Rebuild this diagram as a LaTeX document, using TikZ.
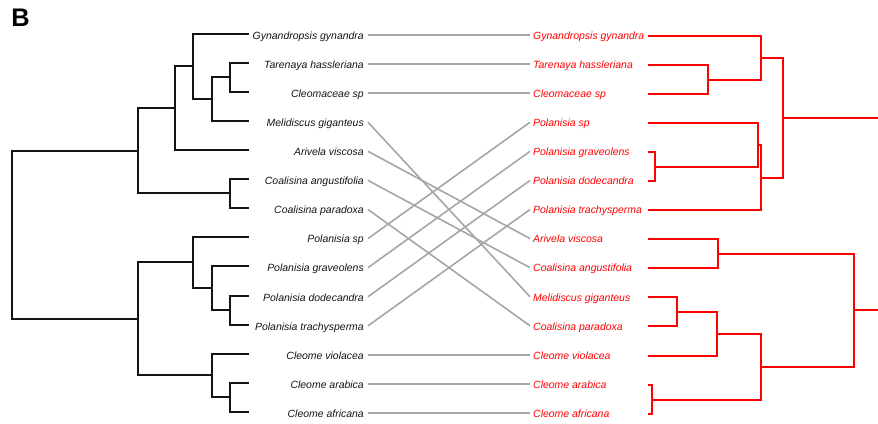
\documentclass[tikz,border=0pt]{standalone}
\usepackage{fontspec}
\newfontfamily\labfont{Liberation Sans}
\usetikzlibrary{calc}
\definecolor{conngray}{RGB}{166,166,166}
\definecolor{treeblack}{RGB}{20,20,20}
\definecolor{treered}{RGB}{255,0,0}
\begin{document}
\begin{tikzpicture}[x=1bp,y=-1bp,
  lefttree/.style={draw=treeblack,line width=1.7bp},
  righttree/.style={draw=treered,line width=1.8bp},
  conn/.style={draw=conngray,line width=1.6bp},
  leftlab/.style={anchor=east,inner xsep=4bp,inner ysep=0pt,text height=8.6bp,text depth=0pt,
    font=\labfont\itshape\fontsize{10.5}{12}\selectfont,text=treeblack},
  rightlab/.style={anchor=west,inner xsep=3bp,inner ysep=0pt,text height=8.6bp,text depth=0pt,
    font=\labfont\itshape\fontsize{10.5}{12}\selectfont,text=treered},
  panel/.style={anchor=base west,inner sep=0pt,font=\labfont\bfseries\fontsize{25.5}{28}\selectfont}]
\useasboundingbox (0,0) rectangle (878,423);
\node[panel] (panelB) at (11.2,26.8) {B};
% left labels and tips
\foreach \i/\t/\y in {1/Gynandropsis gynandra/34,2/Tarenaya hassleriana/63,3/Cleomaceae sp/92,
  4/Melidiscus giganteus/121,5/Arivela viscosa/150,6/Coalisina angustifolia/179,7/Coalisina paradoxa/208,
  8/Polanisia sp/237,9/Polanisia graveolens/266,10/Polanisia dodecandra/296,11/Polanisia trachysperma/325,
  12/Cleome violacea/354,13/Cleome arabica/383,14/Cleome africana/412}{
  \node[leftlab] (L\i) at (368,{35+29.08*(\i-1)}) {\t};
  \coordinate (lt\i) at (249,\y);
}
% right labels and tips
\foreach \i/\t/\y in {1/Gynandropsis gynandra/36,2/Tarenaya hassleriana/65,3/Cleomaceae sp/94,
  4/Polanisia sp/123,5/Polanisia graveolens/152,6/Polanisia dodecandra/181,7/Polanisia trachysperma/210,
  8/Arivela viscosa/239,9/Coalisina angustifolia/268,10/Melidiscus giganteus/297,11/Coalisina paradoxa/326,
  12/Cleome violacea/356,13/Cleome arabica/385,14/Cleome africana/414}{
  \node[rightlab] (R\i) at (530,{35+29.08*(\i-1)}) {\t};
  \coordinate (rt\i) at (648,\y);
}
% connectors
\foreach \a/\b in {1/1,2/2,3/3,4/10,5/8,6/9,7/11,8/4,9/5,10/6,11/7,12/12,13/13,14/14}{
  \draw[conn] (L\a.east) -- (R\b.west);
}
% left tree internal nodes
\coordinate (E1) at (230,77);
\coordinate (D1) at (212,99);
\coordinate (C1) at (193,66);
\coordinate (B1) at (175,108);
\coordinate (E2) at (230,193);
\coordinate (A1) at (138,151);
\coordinate (E3) at (230,310);
\coordinate (D2) at (212,288);
\coordinate (C2) at (193,262);
\coordinate (E4) at (230,397);
\coordinate (D3) at (212,375);
\coordinate (A2) at (138,319);
\coordinate (root) at (12,235);
\path[lefttree]
  (E1) |- (lt2) (E1) |- (lt3)
  (D1) |- (E1) (D1) |- (lt4)
  (C1) |- (lt1) (C1) |- (D1)
  (B1) |- (C1) (B1) |- (lt5)
  (E2) |- (lt6) (E2) |- (lt7)
  (A1) |- (B1) (A1) |- (E2)
  (E3) |- (lt10) (E3) |- (lt11)
  (D2) |- (lt9) (D2) |- (E3)
  (C2) |- (lt8) (C2) |- (D2)
  (E4) |- (lt13) (E4) |- (lt14)
  (D3) |- (lt12) (D3) |- (E4)
  (A2) |- (C2) (A2) |- (D3)
  (root) |- (A1) (root) |- (A2);
% right tree internal nodes
\coordinate (r1) at (708,80);
\coordinate (r2) at (761,58);
\coordinate (r3) at (655,167);
\coordinate (r4) at (758,145);
\coordinate (r5) at (761,178);
\coordinate (r6) at (783,118);
\coordinate (s6) at (879,118);
\coordinate (r7) at (718,254);
\coordinate (r8) at (677,312);
\coordinate (r9) at (717,334);
\coordinate (r10) at (652,400);
\coordinate (r11) at (761,367);
\coordinate (r12) at (854,310);
\coordinate (s12) at (879,310);
\path[righttree]
  (r1) |- (rt2) (r1) |- (rt3)
  (r2) |- (rt1) (r2) |- (r1)
  (r3) |- (rt5) (r3) |- (rt6)
  (r4) |- (rt4) (r4) |- (r3)
  (r5) |- (r4) (r5) |- (rt7)
  (r6) |- (r2) (r6) |- (r5)
  (r6) -- (s6)
  (r7) |- (rt8) (r7) |- (rt9)
  (r8) |- (rt10) (r8) |- (rt11)
  (r9) |- (r8) (r9) |- (rt12)
  (r10) |- (rt13) (r10) |- (rt14)
  (r11) |- (r9) (r11) |- (r10)
  (r12) |- (r7) (r12) |- (r11)
  (r12) -- (s12);
\end{tikzpicture}
\end{document}
